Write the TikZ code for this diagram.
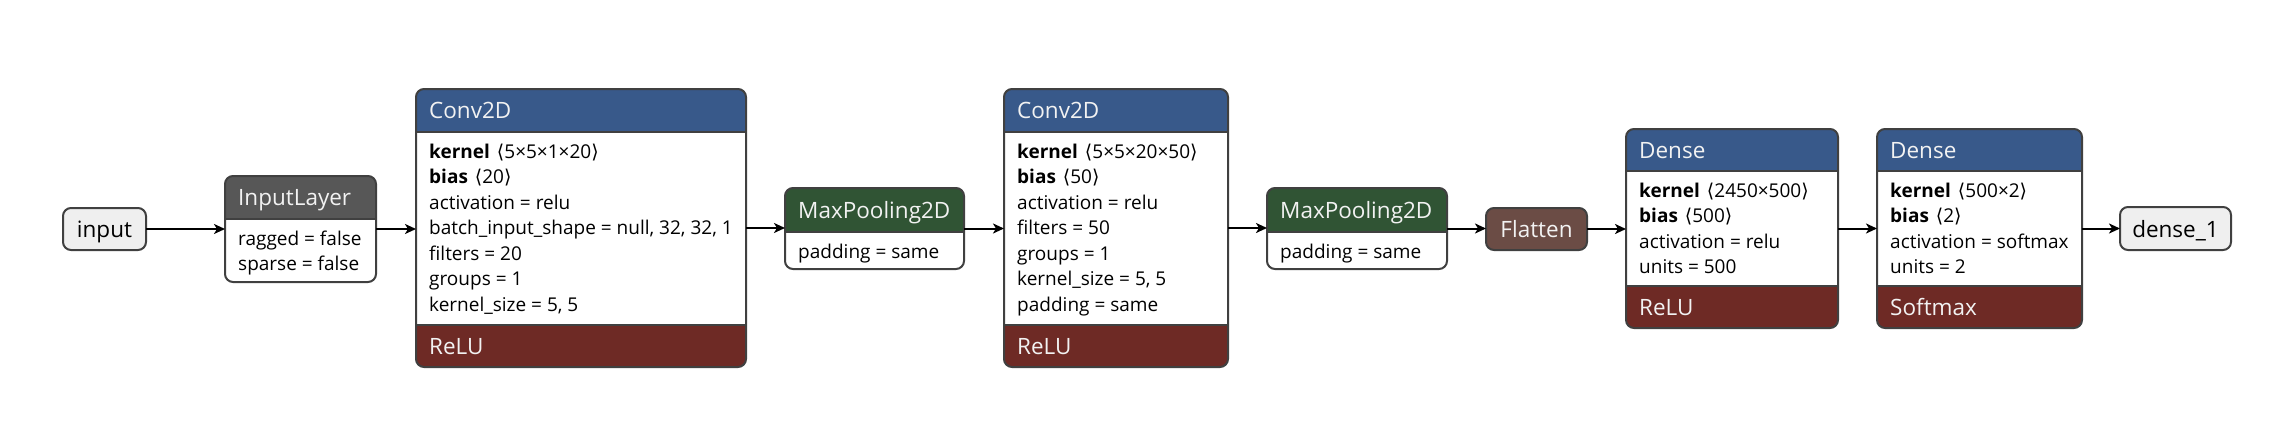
\documentclass[tikz,border=0pt]{standalone}
\usepackage{fontspec}
\setmainfont{Open Sans}
\newfontfamily\symf{DejaVu Sans}
\usetikzlibrary{arrows.meta}
\definecolor{hblue}{HTML}{38598A}
\definecolor{fred}{HTML}{6E2A25}
\definecolor{hgreen}{HTML}{305434}
\definecolor{hgray}{HTML}{575757}
\definecolor{fbrown}{HTML}{6B4C45}
\definecolor{termc}{HTML}{EFEFEF}
\definecolor{bordc}{HTML}{404040}
\definecolor{htc}{HTML}{F2F2F2}
\newcommand\shp[1]{\hspace{7pt}{\symf ⟨}#1{\symf ⟩}}
% name, x1, y1, x2, y2, header bottom, header colour, footer top, footer colour
\newcommand\lyr[9]{%
  \node[anch, minimum width={(#4-#2)*1pt}, minimum height={(#5-#3)*1pt}] (#1) at ({(#2+#4)/2},{(#3+#5)/2}) {};
  \begin{scope}
    \clip[rounded corners=8pt] (#2,#3) rectangle (#4,#5);
    \fill[white] (#2,#3) rectangle (#4,#5);
    \fill[#7] (#2,#3) rectangle (#4,#6);
    \fill[#9] (#2,#8) rectangle (#4,#5);
    \draw[bord] (#2,#6) -- (#4,#6);
    \draw[bord] (#2,#8) -- (#4,#8);
  \end{scope}
  \draw[bord, rounded corners=8pt] (#2,#3) rectangle (#4,#5);
}
\tikzset{
  bord/.style={draw=bordc, line width=2pt},
  anch/.style={inner sep=0pt, outer sep=0pt, draw=none},
  termbox/.style={anch, draw=bordc, line width=2pt, rounded corners=8pt},
  btxt/.style={font=\fontsize{19}{23}\selectfont, anchor=base west, inner sep=0pt, text=black},
  htxt/.style={font=\fontsize{22.5}{26}\selectfont, anchor=base west, inner sep=0pt, text=htc},
  ctxt/.style={font=\fontsize{22.5}{26}\selectfont, anchor=base, inner sep=0pt},
  conn/.style={line width=2pt, draw=black, -{Stealth[length=11pt,width=10pt,inset=3pt]}},
}
\begin{document}
\begin{tikzpicture}[x=1pt,y=-1pt]
\useasboundingbox (0,0) rectangle (2292,436);

% input terminal
\node[termbox, fill=termc, minimum width=83pt, minimum height=42pt] (input) at (104.5,229) {};
\node[ctxt] (inputt) at (104.5,237) {input};

% InputLayer
\lyr{inl}{225}{176}{376}{282}{219}{hgray}{282}{white}
\node[htxt] (inlh) at (238,205.5) {InputLayer};
\node[btxt] (inl0) at (238,245) {ragged = false};
\node[btxt] (inl1) at (238,270.5) {sparse = false};

% Conv2D 1
\lyr{cva}{416}{89}{746}{367}{132}{hblue}{325}{fred}
\node[htxt] (cvah) at (429,118.5) {Conv2D};
\foreach \t [count=\i from 0] in {{\textbf{kernel}\shp{5×5×1×20}},{\textbf{bias}\shp{20}},{activation = relu},{batch\_input\_shape = null, 32, 32, 1},{filters = 20},{groups = 1},{kernel\_size = 5, 5}}
  \node[btxt] (cva\i) at (429,{158+25.5*\i}) {\t};
\node[htxt] (cvaf) at (429,354) {ReLU};

% MaxPooling2D 1
\lyr{mpa}{785}{188}{964}{269}{232}{hgreen}{269}{white}
\node[htxt] (mpah) at (798,218) {MaxPooling2D};
\node[btxt] (mpa0) at (798,258) {padding = same};

% Conv2D 2
\lyr{cvb}{1004}{89}{1228}{367}{132}{hblue}{325}{fred}
\node[htxt] (cvbh) at (1017,118.5) {Conv2D};
\foreach \t [count=\i from 0] in {{\textbf{kernel}\shp{5×5×20×50}},{\textbf{bias}\shp{50}},{activation = relu},{filters = 50},{groups = 1},{kernel\_size = 5, 5},{padding = same}}
  \node[btxt] (cvb\i) at (1017,{158+25.5*\i}) {\t};
\node[htxt] (cvbf) at (1017,354) {ReLU};

% MaxPooling2D 2
\lyr{mpb}{1267}{188}{1447}{269}{232}{hgreen}{269}{white}
\node[htxt] (mpbh) at (1280,218) {MaxPooling2D};
\node[btxt] (mpb0) at (1280,258) {padding = same};

% Flatten
\node[termbox, fill=fbrown, minimum width=101pt, minimum height=42pt] (flt) at (1536.5,229) {};
\node[ctxt, text=htc] (fltt) at (1536.5,237) {Flatten};

% Dense 1
\lyr{dna}{1626}{129}{1838}{328}{171}{hblue}{286}{fred}
\node[htxt] (dnah) at (1639,158) {Dense};
\foreach \t [count=\i from 0] in {{\textbf{kernel}\shp{2450×500}},{\textbf{bias}\shp{500}},{activation = relu},{units = 500}}
  \node[btxt] (dna\i) at (1639,{197+25.5*\i}) {\t};
\node[htxt] (dnaf) at (1639,315) {ReLU};

% Dense 2
\lyr{dnb}{1877}{129}{2082}{328}{171}{hblue}{286}{fred}
\node[htxt] (dnbh) at (1890,158) {Dense};
\foreach \t [count=\i from 0] in {{\textbf{kernel}\shp{500×2}},{\textbf{bias}\shp{2}},{activation = softmax},{units = 2}}
  \node[btxt] (dnb\i) at (1890,{197+25.5*\i}) {\t};
\node[htxt] (dnbf) at (1890,315) {Softmax};

% output terminal
\node[termbox, fill=termc, minimum width=111pt, minimum height=43pt] (outp) at (2175.5,228.5) {};
\node[ctxt] (outpt) at (2175.5,237) {dense\_1};

% connectors
\foreach \a/\b in {input/inl, inl/cva, cva/mpa, mpa/cvb, cvb/mpb, mpb/flt, flt/dna, dna/dnb, dnb/outp}
  \draw[conn] (\a.east) -- (\a.east -| \b.west);
\end{tikzpicture}
\end{document}
